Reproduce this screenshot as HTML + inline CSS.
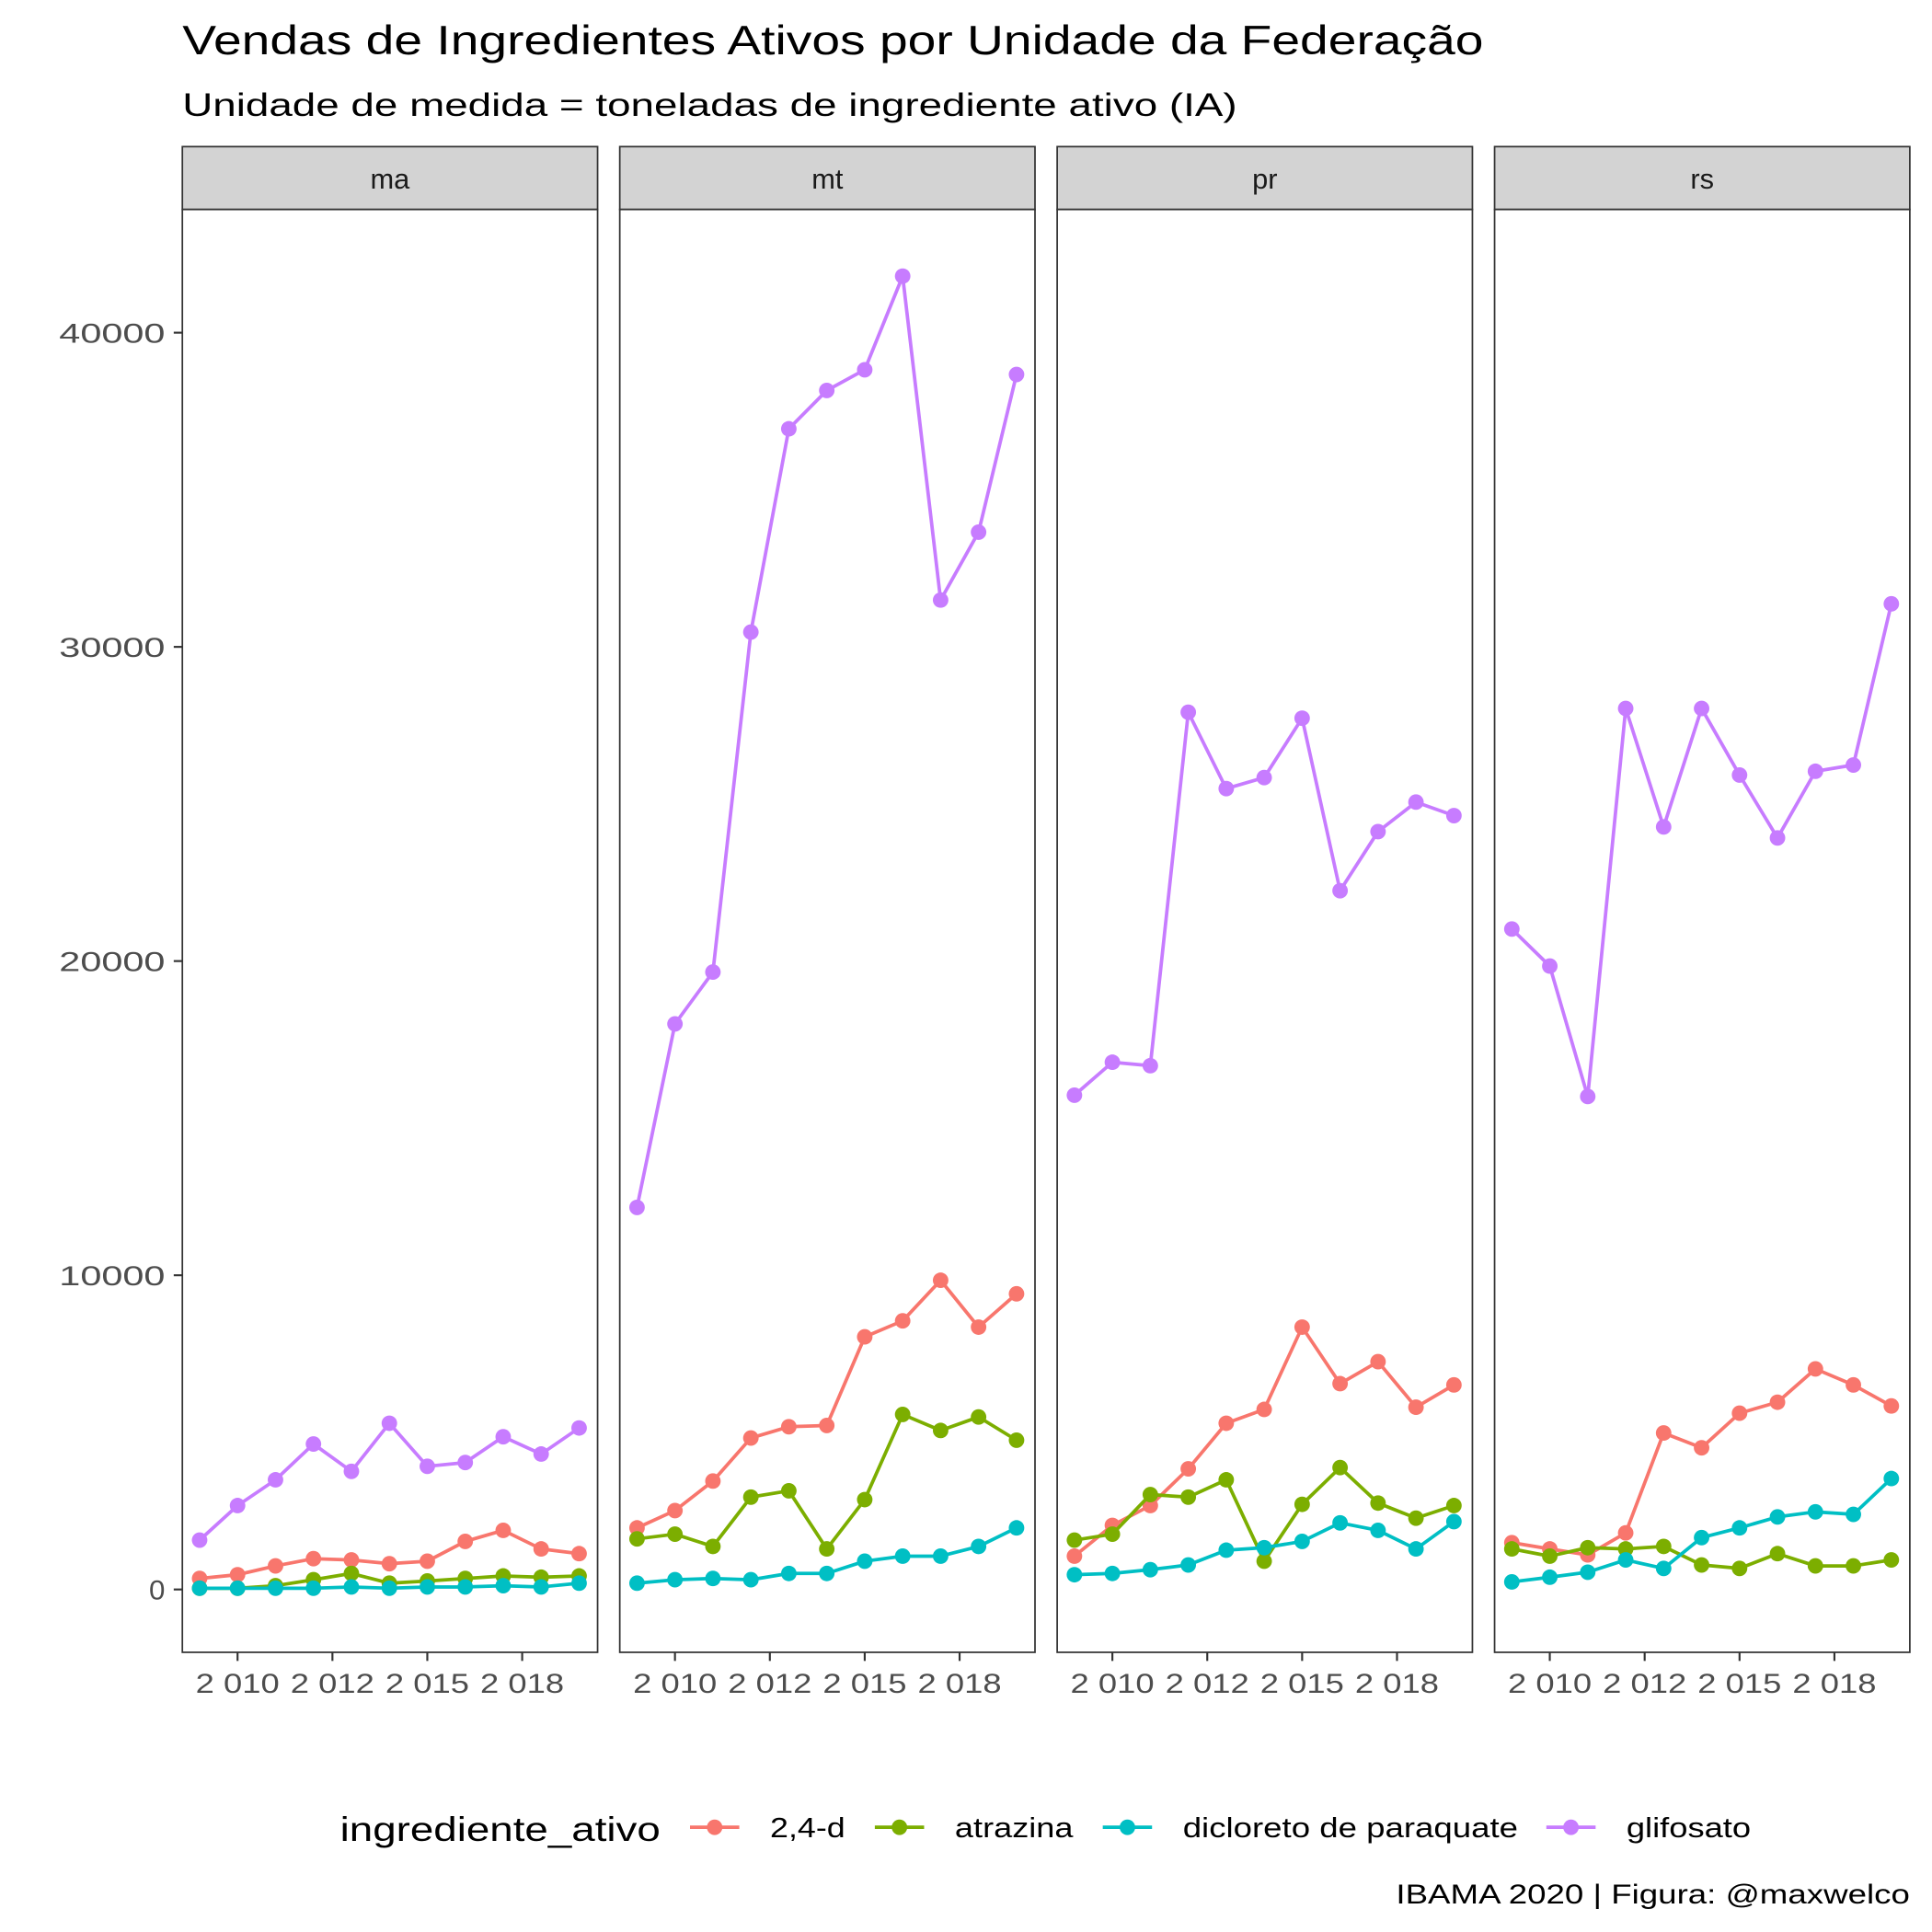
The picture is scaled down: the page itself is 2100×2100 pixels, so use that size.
<!DOCTYPE html>
<html><head><meta charset="utf-8"><style>html,body{margin:0;padding:0;background:#fff}svg{display:block}</style></head>
<body>
<svg id="chart" xmlns="http://www.w3.org/2000/svg" width="2100" height="2100" viewBox="0 0 1568 1568" font-family="'Liberation Sans', sans-serif">
<rect width="1568" height="1568" fill="#fff"/>
<text x="148" y="44" font-size="33" fill="#000" textLength="1056" lengthAdjust="spacingAndGlyphs">Vendas de Ingredientes Ativos por Unidade da Federação</text>
<text x="148" y="94" font-size="26" fill="#000" textLength="856" lengthAdjust="spacingAndGlyphs">Unidade de medida = toneladas de ingrediente ativo (IA)</text>
<g id="panels"></g>
<g id="yaxis"></g>
<g id="legend">
<text x="276" y="1494" font-size="28" textLength="260" lengthAdjust="spacingAndGlyphs">ingrediente_ativo</text>
</g>
<text x="1550" y="1545" font-size="22" text-anchor="end" textLength="417" lengthAdjust="spacingAndGlyphs">IBAMA 2020 | Figura: @maxwelco</text>
</svg>
<script>
const years = [2009,2010,2011,2012,2013,2014,2015,2016,2017,2018,2019];
const states = ["ma","mt","pr","rs"];
const series = ["2,4-d","atrazina","dicloreto de paraquate","glifosato"];
const colors = ["#F8766D","#7CAE00","#00BFC4","#C77CFF"];
const yTicks = [0,10000,20000,30000,40000];
const xTicks = [2010,2012.5,2015,2017.5];
const xTickLabels = ["2 010","2 012","2 015","2 018"];
const ma_24d = [350,470,750,980,940,820,900,1530,1880,1290,1140];
const ma_atrazina = [40,40,120,310,510,200,270,350,430,390,430];
const ma_paraquate = [40,40,40,40,80,40,80,80,120,80,200];
const ma_glifosato = [1570,2670,3490,4630,3760,5290,3920,4040,4860,4310,5140];
const mt_24d = [1960,2510,3450,4820,5180,5220,8040,8550,9840,8350,9410];
const mt_atrazina = [1610,1760,1370,2940,3140,1290,2860,5570,5060,5490,4750];
const mt_paraquate = [200,310,350,310,510,510,900,1060,1060,1370,1960];
const mt_glifosato = [12160,18000,19650,30470,36940,38160,38820,41800,31490,33650,38670];
const pr_24d = [1060,2040,2670,3840,5290,5730,8350,6550,7250,5800,6510];
const pr_atrazina = [1570,1760,3020,2940,3490,900,2710,3880,2750,2270,2670];
const pr_paraquate = [470,510,630,780,1250,1330,1530,2120,1880,1290,2160];
const pr_glifosato = [15730,16780,16670,27920,25490,25840,27730,22240,24120,25060,24630];
const rs_24d = [1490,1290,1100,1800,4980,4510,5610,5960,7020,6510,5840];
const rs_atrazina = [1290,1060,1330,1290,1370,780,670,1140,750,750,940];
const rs_paraquate = [240,390,550,940,670,1650,1960,2310,2470,2390,3530];
const rs_glifosato = [21020,19840,15690,28040,24270,28040,25920,23920,26040,26240,31370];

const data = {
  ma:[ma_24d,ma_atrazina,ma_paraquate,ma_glifosato],
  mt:[mt_24d,mt_atrazina,mt_paraquate,mt_glifosato],
  pr:[pr_24d,pr_atrazina,pr_paraquate,pr_glifosato],
  rs:[rs_24d,rs_atrazina,rs_paraquate,rs_glifosato]
};
const NS="http://www.w3.org/2000/svg";
function mk(tag,attrs,parent){const e=document.createElementNS(NS,tag);for(const k in attrs)e.setAttribute(k,attrs[k]);parent.appendChild(e);return e;}
const panelLefts=[148,503,858,1213], panelW=337, plotTop=170, plotBottom=1341, stripTop=119;
function yScale(v){return 1290 - v*(1020/40000);}
function xScale(left,yr){return left+14+(yr-2009)*(308/10);}
const panels=document.getElementById('panels');
states.forEach((st,si)=>{
  const L=panelLefts[si];
  const g=mk('g',{},panels);
  
  
  const strip=mk('rect',{x:L,y:stripTop,width:panelW,height:plotTop-stripTop,fill:'#d3d3d3',stroke:'#333','stroke-width':1.3},g);
  
  
  const st_t=mk('text',{x:L+panelW/2,y:153,'font-size':23,'text-anchor':'middle',fill:'#1a1a1a'},g);
  st_t.textContent=st;
  
  
  mk('rect',{x:L,y:plotTop,width:panelW,height:plotBottom-plotTop,fill:'#fff',stroke:'#333','stroke-width':1.3},g);
  xTicks.forEach((t,i)=>{
    const x=xScale(L,t);
    const tk=mk('line',{x1:x,x2:x,y1:plotBottom,y2:plotBottom+7,stroke:'#333','stroke-width':1.6},g);
    
    
    const lb=mk('text',{x:x,y:plotBottom+33,'font-size':22,'text-anchor':'middle',fill:'#4d4d4d',textLength:68,lengthAdjust:'spacingAndGlyphs'},g);
    lb.textContent=xTickLabels[i];
    
    
  });
  series.forEach((s,k)=>{
    const vals=data[st][k];
    const pts=vals.map((v,i)=>xScale(L,years[i])+','+yScale(v)).join(' ');
    const pl=mk('polyline',{points:pts,fill:'none',stroke:colors[k],'stroke-width':2.8,'stroke-linejoin':'round'},g);
    
    
    vals.forEach((v,i)=>{
      const c=mk('circle',{cx:xScale(L,years[i]),cy:yScale(v),r:6.3,fill:colors[k]},g);
      
      
    });
  });
});
const ya=document.getElementById('yaxis');
yTicks.forEach(t=>{
  const y=yScale(t);
  const tk=mk('line',{x1:141,x2:148,y1:y,y2:y,stroke:'#333','stroke-width':1.6},ya);
  
  
  const lb=mk('text',{x:134,y:y+8,'font-size':22,'text-anchor':'end',fill:'#4d4d4d',textLength:t===0?13:(t<10000?52:86),lengthAdjust:'spacingAndGlyphs'},ya);
  lb.textContent=String(t);
  
  
});
const leg=document.getElementById('legend');
const legX=[560,710,895,1255], legTX=[625,775,960,1320], legW=[61,96,272,101];
series.forEach((s,k)=>{
  const ln=mk('line',{x1:legX[k],x2:legX[k]+40,y1:1483,y2:1483,stroke:colors[k],'stroke-width':2.8},leg);
  
  
  const c=mk('circle',{cx:legX[k]+20,cy:1483,r:6.3,fill:colors[k]},leg);
  
  
  const t=mk('text',{x:legTX[k],y:1491,'font-size':23,fill:'#000',textLength:legW[k],lengthAdjust:'spacingAndGlyphs'},leg);
  t.textContent=s;
  
  
});
</script>
</body></html>
